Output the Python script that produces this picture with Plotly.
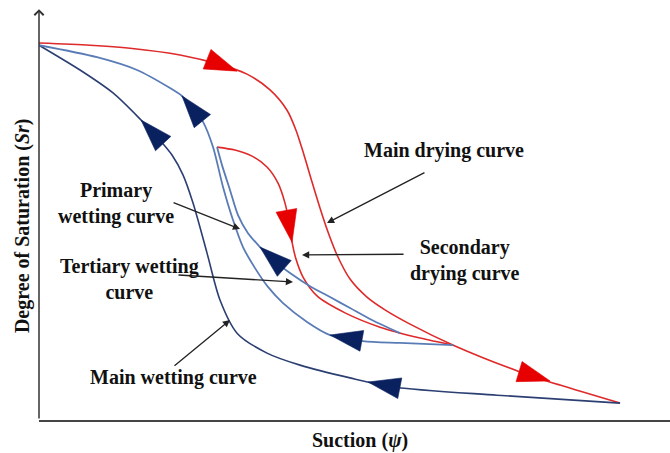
import plotly.graph_objects as go

# Soil-water characteristic curves: suction (arbitrary units) vs degree of saturation
main_drying_suction = [0, 8.78, 15.66, 24.27, 31.5, 35.8, 39.76, 42.69, 44.23, 45.61, 46.99, 48.36,
                       49.74, 51.29, 53.53, 56.45, 59.55, 63.86, 71.3, 82.79, 89.67, 100]
main_drying_sr = [1.003, 0.997, 0.989, 0.971, 0.944, 0.920, 0.878, 0.824, 0.771, 0.705, 0.633, 0.564,
                  0.500, 0.439, 0.375, 0.327, 0.293, 0.255, 0.199, 0.128, 0.093, 0.045]

secondary_drying_suction = [30.64, 33.73, 36.66, 39.24, 41.14, 42.34, 43.03, 43.55, 44.23, 45.44,
                            47.85, 52.67, 58.69, 65.58, 71.3]
secondary_drying_sr = [0.726, 0.718, 0.702, 0.673, 0.630, 0.577, 0.527, 0.473, 0.428, 0.380,
                       0.330, 0.285, 0.247, 0.218, 0.199]

main_wetting_suction = [100, 78.83, 60.93, 53.53, 44.92, 39.24, 34.08, 31.15, 28.92, 26.51, 24.78,
                        22.89, 20.48, 17.56, 12.74, 7.06, 0]
main_wetting_sr = [0.045, 0.066, 0.088, 0.112, 0.146, 0.178, 0.231, 0.319, 0.444, 0.577, 0.652,
                   0.705, 0.750, 0.798, 0.870, 0.931, 0.997]

primary_wetting_suction = [71.3, 62.13, 55.77, 50.09, 46.13, 42.0, 39.41, 37.18, 35.11, 33.39, 31.67,
                           29.95, 28.23, 25.99, 24.61, 22.55, 16.87, 9.98, 0]
primary_wetting_sr = [0.199, 0.205, 0.210, 0.226, 0.261, 0.311, 0.354, 0.404, 0.460, 0.532, 0.620,
                      0.726, 0.793, 0.840, 0.862, 0.883, 0.931, 0.965, 0.997]

tertiary_wetting_suction = [62.13, 57.31, 53.53, 50.09, 46.64, 43.2, 40.1, 38.04, 35.97, 34.25,
                            32.87, 31.5, 30.64]
tertiary_wetting_sr = [0.231, 0.266, 0.298, 0.327, 0.356, 0.391, 0.428, 0.460, 0.497, 0.545,
                       0.612, 0.678, 0.726]

# Direction arrows: ([suction behind, suction at tip], [Sr behind, Sr at tip])
red_arrows = [
    ([31.5, 34.1], [0.944, 0.928]),
    ([82.79, 87.95], [0.128, 0.104]),
    ([42.69, 43.55], [0.548, 0.473]),
]
blue_arrows = [
    ([20.48, 17.56], [0.750, 0.798]),
    ([60.93, 56.63], [0.088, 0.101]),
    ([28.23, 24.61], [0.793, 0.862]),
    ([55.77, 50.09], [0.210, 0.226]),
    ([42.0, 38.04], [0.406, 0.460]),
]

RED = "#de2a2a"
NAVY = "#2c3f72"
STEEL = "#5a7cb6"
ARROW_RED = "#e60000"
ARROW_BLUE = "#0a2160"

fig = go.Figure()


def curve(x, y, color, width=1.6):
    fig.add_trace(go.Scatter(x=x, y=y, mode="lines", hoverinfo="skip",
                             line=dict(color=color, width=width, shape="spline", smoothing=0.8)))


curve(main_drying_suction, main_drying_sr, RED)
curve(secondary_drying_suction, secondary_drying_sr, RED)
curve(main_wetting_suction, main_wetting_sr, NAVY)
curve(primary_wetting_suction, primary_wetting_sr, STEEL, 1.8)
curve(tertiary_wetting_suction, tertiary_wetting_sr, STEEL, 1.8)

for arrows, color in ((red_arrows, ARROW_RED), (blue_arrows, ARROW_BLUE)):
    for ax_, ay_ in arrows:
        fig.add_trace(go.Scatter(
            x=ax_, y=ay_, mode="markers", hoverinfo="skip",
            marker=dict(symbol="arrow", angleref="previous", size=[0, 34], opacity=1,
                        color=color, line=dict(width=0.6, color=color)),
        ))

FONT = dict(family="Liberation Serif, Times New Roman, serif", size=20, color="#111111")

labels = [
    ("Main drying curve", 69.7, 0.718),
    ("Primary<br>wetting curve", 13.25, 0.575),
    ("Tertiary wetting<br>curve", 15.5, 0.376),
    ("Secondary<br>drying curve", 73.3, 0.424),
    ("Main wetting curve", 23.2, 0.114),
]
annotations = []
for text, x, y in labels:
    annotations.append(dict(x=x, y=y, xref="x", yref="y", text="<b>" + text + "</b>",
                            showarrow=False, font=FONT, align="center"))

# Pointer lines from the labels to the curves: (tail x, tail y, tip x, tip y)
pointers = [
    (66.6, 0.660, 49.57, 0.524),
    (22.9, 0.580, 34.6, 0.508),
    (63.0, 0.441, 45.27, 0.439),
    (23.75, 0.386, 43.72, 0.367),
    (23.06, 0.141, 32.87, 0.266),
]
for tx, ty, hx, hy in pointers:
    annotations.append(dict(x=hx, y=hy, ax=tx, ay=ty, xref="x", yref="y", axref="x", ayref="y",
                            text="", showarrow=True, arrowhead=2, arrowsize=1.1, arrowwidth=1.3,
                            arrowcolor="#222222"))

# Vertical axis with arrow at the top
annotations.append(dict(x=0, y=1.093, ax=0, ay=0, xref="x", yref="y", axref="x", ayref="y",
                        text="", showarrow=True, arrowhead=4, arrowsize=1.2, arrowwidth=1.5,
                        arrowcolor="#333333"))

annotations.append(dict(x=0.509, y=-0.05, xref="paper", yref="paper", showarrow=False,
                        text="<b>Suction (<i>ψ</i>)</b>", font=FONT, yanchor="middle"))
annotations.append(dict(x=-0.027, y=0.473, xref="paper", yref="paper", showarrow=False,
                        text="<b>Degree of Saturation (<i>Sr</i>)</b>", font=FONT, textangle=-90,
                        xanchor="center", yanchor="middle"))

fig.update_layout(
    width=670, height=453,
    margin=dict(l=39, r=0, t=8, b=33),
    paper_bgcolor="white", plot_bgcolor="white",
    showlegend=False,
    annotations=annotations,
    xaxis=dict(range=[0, 108.6], showgrid=False, zeroline=False, showticklabels=False, ticks="",
               showline=True, linecolor="#444444", linewidth=2, fixedrange=True),
    yaxis=dict(range=[0, 1.096], showgrid=False, zeroline=False, showticklabels=False, ticks="",
               showline=False, fixedrange=True),
)

fig.write_html("out.html")
